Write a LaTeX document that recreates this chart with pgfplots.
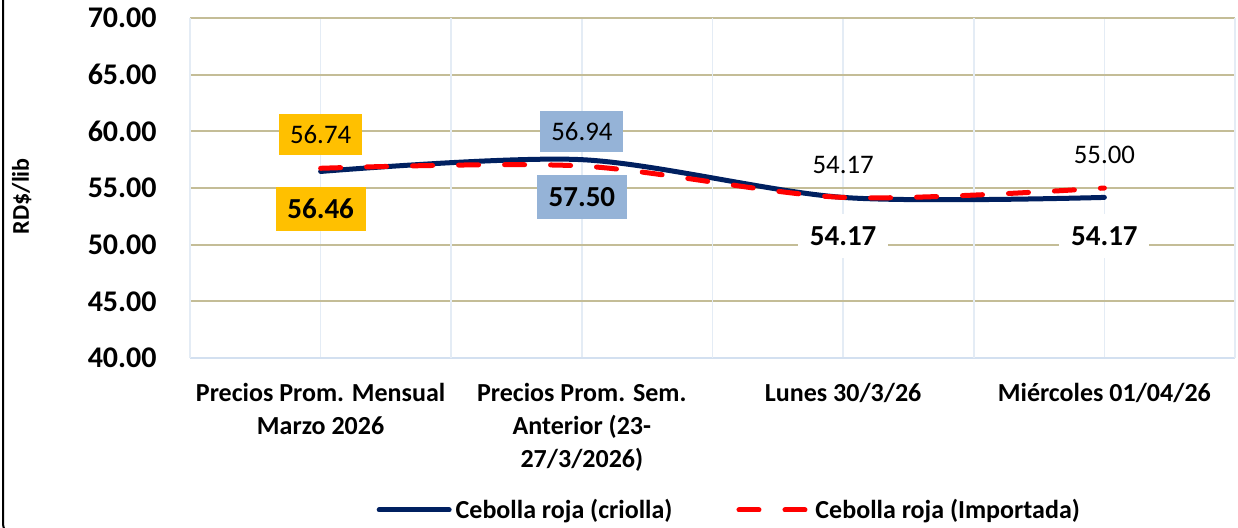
\documentclass[border=0pt]{standalone}
\usepackage{fontspec}
\setmainfont{Carlito}
\usepackage{pgfplots}
\usepackage{pgfplotstable}
\pgfplotsset{compat=1.18}

\definecolor{navyline}{HTML}{002060}
\definecolor{redline}{HTML}{FF0000}
\definecolor{tangrid}{HTML}{C4BD97}
\definecolor{bluegrid}{HTML}{D3E0F0}
\definecolor{bluegridlt}{HTML}{E4ECF5}
\definecolor{boxorange}{HTML}{FFC000}
\definecolor{boxblue}{HTML}{95B3D7}

% x: 0 = mensual, 1 = semana anterior, 2 = lunes, 3 = miercoles
\pgfplotstableread{
x y shift
0 56.46 -18.75
1 57.50 -18.6
2 54.17 -19.3
3 54.17 -19.3
}\criolla

\pgfplotstableread{
x y shift
0 56.74 17
1 56.94 17.25
2 54.17 16.2
3 55.00 16.5
}\importada

\pgfplotsset{
    lab/.style n args={2}{draw=none, forget plot, point meta=y,
        restrict x to domain=#1,
        visualization depends on={\thisrow{shift}\as\shift},
        nodes near coords={\pgfmathprintnumber[fixed,fixed zerofill,precision=2]{\pgfplotspointmeta}},
        every node near coord/.append style={fill=#2, anchor=center, yshift=\shift pt, inner sep=0pt}},
    labcri/.style={every node near coord/.append style={font=\bfseries\fontsize{14.5}{17}\selectfont,
        minimum width=45pt, minimum height=22pt}},
    labimp/.style={every node near coord/.append style={font=\fontsize{13.4}{16}\selectfont,
        minimum width=41.5pt, minimum height=20.5pt}},
}

\begin{document}
\begin{tikzpicture}
\begin{scope}
\clip (0,0) rectangle (619pt,263.5pt);

% title, only its bottom edge shows
\node[anchor=base, font=\bfseries\fontsize{15}{18}\selectfont] at (330pt,265.6pt) {(Precios RD\$ por libra)};

\begin{axis}[
    at={(95pt,84.5pt)}, anchor=south west,
    scale only axis,
    width=522.5pt, height=170pt,
    xmin=-0.5, xmax=3.5,
    ymin=40, ymax=70,
    enlargelimits=false,
    axis x line*=bottom,
    axis y line*=left,
    x axis line style={-, draw=bluegrid, line width=1pt},
    y axis line style={draw=none},
    xtick={0,1,2,3},
    xticklabels={{Precios Prom. Mensual\\Marzo 2026},{Precios Prom. Sem.\\Anterior (23-\\27/3/2026)},{Lunes 30/3/26},{Miércoles 01/04/26}},
    xtick style={draw=none},
    xmajorgrids,
    major x grid style={bluegridlt, line width=0.8pt},
    extra x ticks={-0.5,0.5,1.5,2.5,3.5},
    extra x tick labels={},
    extra x tick style={grid=major, major grid style={bluegrid, line width=0.8pt},
        tick style={draw=bluegrid, line width=0.8pt}, major tick length=4pt, tick align=outside},
    ytick={40,45,...,70},
    ytick style={draw=none},
    ymajorgrids,
    major y grid style={tangrid, line width=1pt},
    /pgf/number format/assume math mode=true,
    yticklabel={\pgfmathprintnumber[fixed,fixed zerofill,precision=2]{\tick}},
    yticklabel style={font=\bfseries\fontsize{15}{17}\selectfont, anchor=east, inner sep=0pt, xshift=-16.5pt},
    xticklabel style={font=\bfseries\fontsize{13}{16.5}\selectfont, align=center, anchor=north, inner sep=0pt, yshift=-12.5pt},
    ylabel={RD\$/lib},
    ylabel style={font=\bfseries\fontsize{12}{14}\selectfont, at={(axis description cs:-0.161,0.476)}, anchor=center},
    legend style={at={(0.517,-0.447)}, anchor=center, draw=none, fill=none,
        font=\bfseries\fontsize{13}{15}\selectfont,
        /tikz/every even column/.append style={column sep=30pt}},
    legend columns=2,
    legend image code/.code={\draw[#1] (0pt,0pt) -- (35pt,0pt);},
]
\addplot[navyline, line width=2.5pt, line cap=round, smooth] table[x=x, y=y] {\criolla};
\addlegendentry{Cebolla roja (criolla)}
\addplot[redline, line width=2.5pt, line cap=round, dash pattern=on 10pt off 13pt, smooth] table[x=x, y=y] {\importada};
\addlegendentry{Cebolla roja (Importada)}

% data labels
\addplot[lab={-0.1:0.1}{boxorange}, labcri] table[x=x, y=y] {\criolla};
\addplot[lab={0.9:1.1}{boxblue}, labcri] table[x=x, y=y] {\criolla};
\addplot[lab={1.9:3.1}{white}, labcri] table[x=x, y=y] {\criolla};
\addplot[lab={-0.1:0.1}{boxorange}, labimp] table[x=x, y=y] {\importada};
\addplot[lab={0.9:1.1}{boxblue}, labimp] table[x=x, y=y] {\importada};
\addplot[lab={1.9:3.1}{none}, labimp] table[x=x, y=y] {\importada};
\end{axis}

% outer chart frame
\draw[black, line width=1pt, rounded corners=8pt] (1.5pt,-6pt) rectangle (700pt,300pt);
\end{scope}
\pgfresetboundingbox
\useasboundingbox (0,0) rectangle (619pt,263.5pt);
\end{tikzpicture}
\end{document}
